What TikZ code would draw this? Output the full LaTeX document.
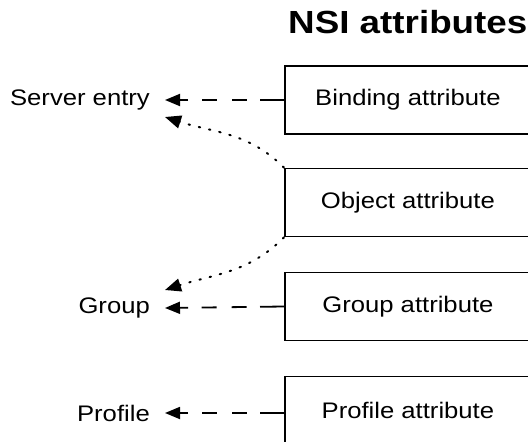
\documentclass[tikz,border=0pt]{standalone}
\usepackage{fontspec}
\setmainfont{Liberation Sans}
\usetikzlibrary{arrows.meta}
\newcommand{\wtxt}[1]{\scalebox{1.14}[1]{#1}}
\tikzset{
  attrbox/.style={draw, line width=1.8pt, minimum width=246pt, minimum height=68pt,
    anchor=west, inner sep=0pt, font=\fontsize{22.5}{26}\selectfont},
  lbl/.style={anchor=east, inner ysep=0pt, inner xsep=0pt, font=\fontsize{22.5}{26}\selectfont},
  darrow/.style={line width=1.8pt,
    dash pattern=on 24pt off 13.3pt on 15pt off 15pt on 15pt off 13.7pt on 40pt,
    -{Triangle[length=15pt,width=12pt]}},
  parrow/.style={line width=2pt, dash pattern=on 1.5pt off 9pt, line cap=round,
    -{Triangle[length=16pt,width=13pt]}},
}
\begin{document}
\begin{tikzpicture}[x=1pt,y=-1pt]
\useasboundingbox (0,0) rectangle (528,442);
\clip (0,0) rectangle (528,442);
\node[anchor=base west, inner sep=0pt, font=\fontsize{32}{36}\selectfont\bfseries] (title) at (288,33) {\scalebox{1.15}[1]{NSI attributes}};
\node[attrbox] (bind) at (284,100) {\wtxt{Binding attribute}};
\node[attrbox] (obj) at (284,202.5) {\wtxt{Object attribute}};
\node[attrbox] (grp) at (284,306.5) {\wtxt{Group attribute}};
\node[attrbox] (prof) at (284,410.5) {\wtxt{Profile attribute}};
\node[lbl] (srv) at (150,100) {\wtxt{Server entry}};
\node[lbl] (group) at (150,308) {\wtxt{Group}};
\node[lbl] (profile) at (150,413) {\wtxt{Profile}};
\coordinate (srvtip) at (165,100);
\coordinate (grptip) at (165,308);
\coordinate (proftip) at (165,413);
\coordinate (srvtip2) at (165,117);
\coordinate (grptip2) at (165,290);
\draw[darrow] (bind.west) -- (srvtip);
\draw[darrow] (grp.west) -- (grptip);
\draw[darrow] (prof.west |- proftip) -- (proftip);
\draw[parrow] (obj.north west) to[out=135, in=-18] (srvtip2);
\draw[parrow] (obj.south west) to[out=-135, in=18] (grptip2);
\end{tikzpicture}
\end{document}
